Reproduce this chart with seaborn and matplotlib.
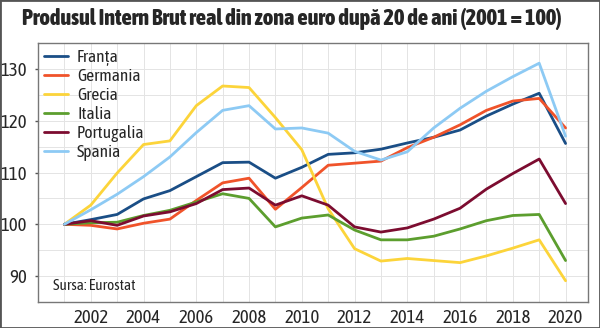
import matplotlib
matplotlib.use("Agg")
import matplotlib.pyplot as plt
import seaborn as sns
import pandas as pd
from matplotlib.patches import Rectangle

years = list(range(2001, 2021))
franta = [100, 100.9, 101.9, 104.9, 106.5, 109.2, 111.9, 112.0, 108.9, 111.0, 113.5,
          113.8, 114.5, 115.7, 116.8, 118.2, 120.9, 123.2, 125.3, 115.6]
germania = [100, 99.8, 99.1, 100.2, 101.0, 104.6, 108.0, 108.9, 102.9, 107.1, 111.4,
            111.8, 112.2, 114.8, 116.8, 119.2, 122.0, 123.8, 124.3, 118.6]
grecia = [100, 103.7, 109.9, 115.4, 116.1, 122.9, 126.7, 126.4, 120.6, 114.4, 103.0,
          95.3, 92.9, 93.4, 93.0, 92.6, 93.9, 95.4, 97.0, 89.1]
italia = [100, 100.3, 100.4, 101.7, 102.7, 104.3, 105.9, 105.0, 99.5, 101.2, 101.8,
          98.9, 97.0, 97.0, 97.7, 99.1, 100.7, 101.7, 101.9, 93.0]
portugalia = [100, 100.7, 99.8, 101.6, 102.4, 104.0, 106.7, 107.0, 103.7, 105.5, 103.7,
              99.5, 98.5, 99.3, 101.0, 103.1, 106.8, 109.8, 112.6, 104.0]
spania = [100, 102.8, 105.8, 109.2, 113.0, 117.7, 122.0, 122.9, 118.4, 118.6, 117.6,
          114.1, 112.4, 114.0, 118.6, 122.4, 125.7, 128.5, 131.1, 117.0]

countries = ["Franța", "Germania", "Grecia", "Italia", "Portugalia", "Spania"]
colors = ["#1a4e86", "#f0532a", "#fcd43a", "#5c9e2e", "#7c0c30", "#8dcaf4"]
series = [franta, germania, grecia, italia, portugalia, spania]

title = "Produsul Intern Brut real din zona euro după 20 de ani (2001 = 100)"
source = "Sursa: Eurostat"
xticks = list(range(2002, 2021, 2))
yticks = [90, 100, 110, 120, 130]

rows = []
for c, s in zip(countries, series):
    for y, v in zip(years, s):
        rows.append({"An": y, "Valoare": v, "Tara": c})
df = pd.DataFrame(rows)

sns.set_theme(style="white")
plt.rcParams["font.family"] = ["Asap Condensed", "DejaVu Sans"]

fig = plt.figure(figsize=(6, 3.28), dpi=100)
ax = fig.add_axes([38/600, 1 - 302/328, (588-38)/600, (302-43)/328])

sns.lineplot(data=df, x="An", y="Valoare", hue="Tara", hue_order=countries,
             palette=colors, linewidth=2.0, ax=ax, legend=True)

ax.set_xlim(2000.0, 2020.85)
ax.set_ylim(86.8, 133.2)
ax.set_xticks(xticks)
ax.set_xticklabels([str(x) for x in xticks], fontsize=13.5)
ax.set_yticks(yticks)
ax.set_yticklabels([str(v) for v in yticks], fontsize=13.5)
ax.set_xticks(years, minor=True)
ax.set_yticks([85, 95, 105, 115, 125, 135], minor=True)
ax.grid(True, which="both", color="#e4e4e4", linewidth=0.7)
ax.set_axisbelow(True)
ax.set_xlabel("")
ax.set_ylabel("")
ax.tick_params(axis="y", which="major", length=2, width=1, color="#555555", pad=6, left=True)
ax.tick_params(axis="x", which="major", length=0, pad=5)
ax.tick_params(which="minor", length=0)
for sp in ax.spines.values():
    sp.set_color("#777777")
    sp.set_linewidth(1.0)

leg = ax.legend(loc="upper left", frameon=False, fontsize=12.5, handlelength=1.4,
                handletextpad=0.5, labelspacing=0.12, borderaxespad=0.05,
                borderpad=0.3)
for line in leg.get_lines():
    line.set_linewidth(2.0)

ax.text(0.028, 0.035, source, transform=ax.transAxes, fontsize=11, ha="left", va="bottom")

t = fig.text(22/600, 1 - 19/328, title, fontsize=16, fontweight=800, ha="left", va="center")
fig.canvas.draw()
w = t.get_window_extent().width
t.set_fontsize(16 * 540 / w)

fig.patches.append(Rectangle((0, 0), 1, 1, transform=fig.transFigure, fill=False,
                             edgecolor="#555555", linewidth=2))

fig.savefig("out.png", dpi=100)
